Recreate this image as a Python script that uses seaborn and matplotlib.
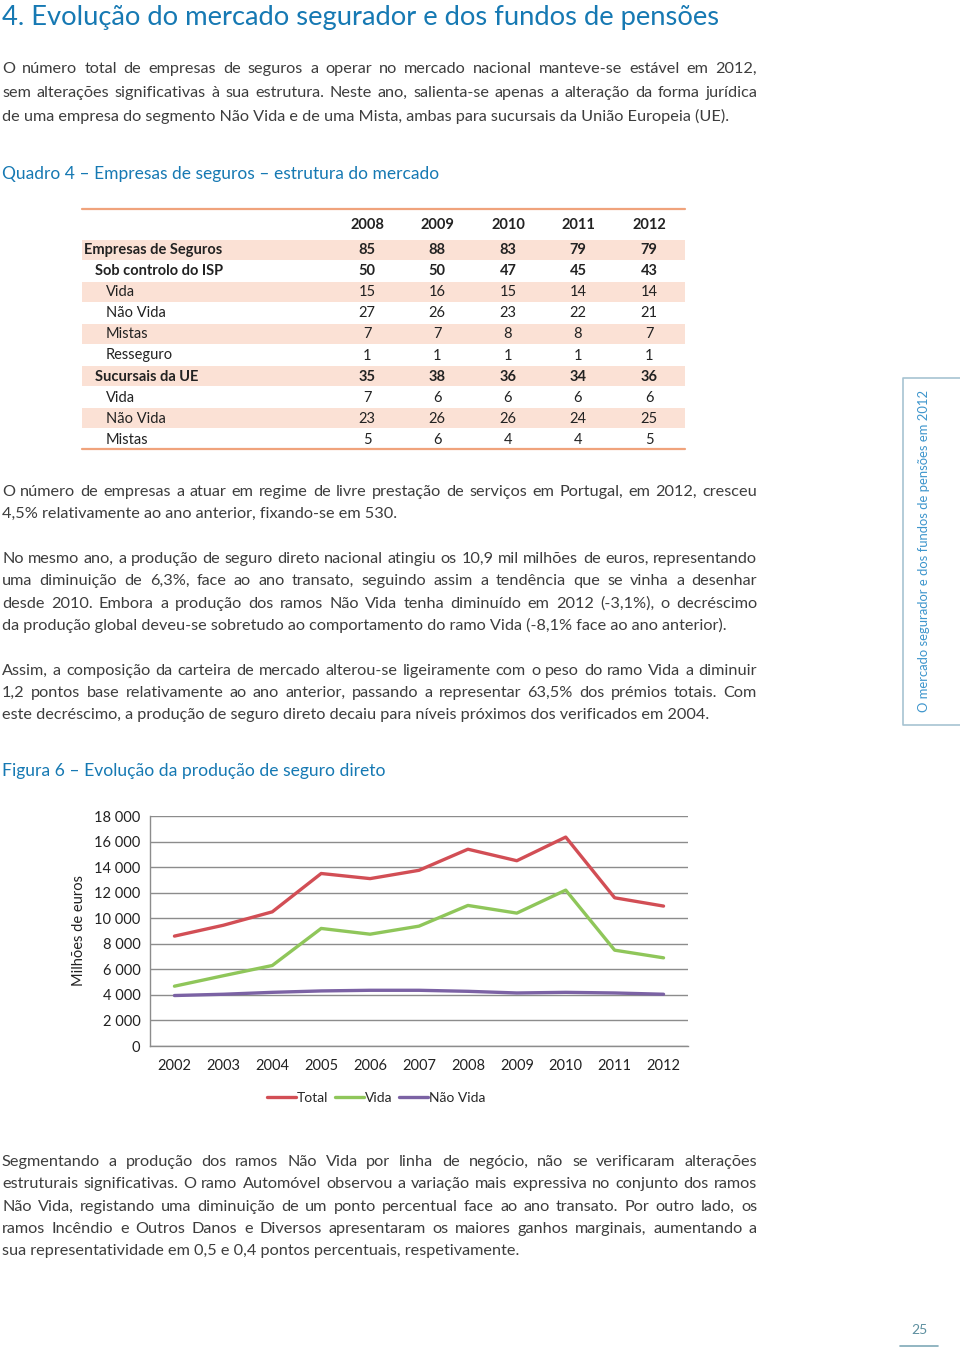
import numpy as np
import pandas as pd
import matplotlib
matplotlib.use('Agg')
import matplotlib.pyplot as plt
import seaborn as sns
from matplotlib.ticker import FuncFormatter, FixedLocator

# ---- data ----
tab_years = ['2008', '2009', '2010', '2011', '2012']
tab_rows = ['Empresas de Seguros', 'Sob controlo do ISP', 'Vida', 'Não Vida', 'Mistas',
            'Resseguro', 'Sucursais da UE', 'Vida', 'Não Vida', 'Mistas']
tab_level = [0, 1, 2, 2, 2, 2, 1, 2, 2, 2]
tab_bold = [True, True, False, False, False, False, True, False, False, False]
tab_values = [
    [85, 88, 83, 79, 79],
    [50, 50, 47, 45, 43],
    [15, 16, 15, 14, 14],
    [27, 26, 23, 22, 21],
    [7, 7, 8, 8, 7],
    [1, 1, 1, 1, 1],
    [35, 38, 36, 34, 36],
    [7, 6, 6, 6, 6],
    [23, 26, 26, 24, 25],
    [5, 6, 4, 4, 5],
]

anos = ['2002', '2003', '2004', '2005', '2006', '2007', '2008', '2009', '2010', '2011', '2012']
total = [8600, 9450, 10500, 13500, 13100, 13750, 15400, 14500, 16350, 11600, 10950]
vida = [4680, 5500, 6300, 9200, 8750, 9380, 11000, 10400, 12200, 7500, 6900]
nao_vida = [3950, 4050, 4200, 4310, 4360, 4360, 4280, 4150, 4200, 4150, 4050]
series_names = ['Total', 'Vida', 'Não Vida']
series_colors = ['#d24e55', '#8fc65a', '#7b62a4']

title = '4. Evolução do mercado segurador e dos fundos de pensões'
para1 = ['O número total de empresas de seguros a operar no mercado nacional manteve-se estável em 2012,',
         'sem alterações significativas à sua estrutura. Neste ano, salienta-se apenas a alteração da forma jurídica',
         'de uma empresa do segmento Não Vida e de uma Mista, ambas para sucursais da União Europeia (UE).']
cap_quadro = 'Quadro 4 – Empresas de seguros – estrutura do mercado'
para2 = ['O número de empresas a atuar em regime de livre prestação de serviços em Portugal, em 2012, cresceu',
         '4,5% relativamente ao ano anterior, fixando-se em 530.']
para3 = ['No mesmo ano, a produção de seguro direto nacional atingiu os 10,9 mil milhões de euros, representando',
         'uma diminuição de 6,3%, face ao ano transato, seguindo assim a tendência que se vinha a desenhar',
         'desde 2010. Embora a produção dos ramos Não Vida tenha diminuído em 2012 (-3,1%), o decréscimo',
         'da produção global deveu-se sobretudo ao comportamento do ramo Vida (-8,1% face ao ano anterior).']
para4 = ['Assim, a composição da carteira de mercado alterou-se ligeiramente com o peso do ramo Vida a diminuir',
         '1,2 pontos base relativamente ao ano anterior, passando a representar 63,5% dos prémios totais. Com',
         'este decréscimo, a produção de seguro direto decaiu para níveis próximos dos verificados em 2004.']
cap_figura = 'Figura 6 – Evolução da produção de seguro direto'
para5 = ['Segmentando a produção dos ramos Não Vida por linha de negócio, não se verificaram alterações',
         'estruturais significativas. O ramo Automóvel observou a variação mais expressiva no conjunto dos ramos',
         'Não Vida, registando uma diminuição de um ponto percentual face ao ano transato. Por outro lado, os',
         'ramos Incêndio e Outros Danos e Diversos apresentaram os maiores ganhos marginais, aumentando a',
         'sua representatividade em 0,5 e 0,4 pontos percentuais, respetivamente.']
sidebar = 'O mercado segurador e dos fundos de pensões em 2012'

sns.set_theme(style='white')
plt.rcParams['font.family'] = ['Lato', 'DejaVu Sans']

BLUE = '#1679b3'
GREY = '#3d3d3d'

fig = plt.figure(figsize=(9.6, 13.49), dpi=100)
page = fig.add_axes([0, 0, 1, 1])
page.set_xlim(0, 960)
page.set_ylim(1349, 0)
page.axis('off')
renderer = fig.canvas.get_renderer()


def measure(s, size, weight='normal'):
    t = page.text(0, 0, s, fontsize=size, weight=weight)
    bb = t.get_window_extent(renderer)
    t.remove()
    return bb.width, bb.height


def fit_size(s, target, base=12, weight='normal'):
    w, _ = measure(s, base, weight)
    return base * target / w


def paragraph(lines, y0, dy, size, x0=2, x1=757):
    for k, line in enumerate(lines):
        y = y0 + k * dy + 5
        if k == len(lines) - 1:
            page.text(x0, y, line, fontsize=size, color=GREY, va='baseline')
            continue
        words = line.split(' ')
        widths = [measure(w, size)[0] for w in words]
        gap = (x1 - x0 - sum(widths)) / (len(words) - 1)
        x = x0
        for w, wd in zip(words, widths):
            page.text(x, y, w, fontsize=size, color=GREY, va='baseline')
            x += wd + gap


# body size: fit the longest justified line
all_just = [l for p in (para1, para2, para3, para4, para5) for l in p[:-1]]
body = min(fit_size(l, 750) for l in all_just)
body = min(body, 12.5)

page.text(2, 17, title, fontsize=fit_size(title, 718), color=BLUE, va='center')
paragraph(para1, 68, 24, body)
page.text(2, 174, cap_quadro, fontsize=fit_size(cap_quadro, 434), color=BLUE, va='center')
paragraph(para2, 491, 22.3, body)
paragraph(para3, 558, 22.3, body)
paragraph(para4, 670, 22.2, body)
page.text(2, 771, cap_figura, fontsize=fit_size(cap_figura, 381), color=BLUE, va='center')
paragraph(para5, 1161, 22.3, body)

# ---- table ----
tx0, tx1 = 82, 685
col_x = [367, 437, 508, 578, 649]
row_y0, row_dy = 249.5, 21.1
for i in range(len(tab_rows)):
    y = row_y0 + i * row_dy
    if i % 2 == 0:
        page.add_patch(plt.Rectangle((tx0, y - 10), tx1 - tx0, 20, color='#fbe1d5', lw=0))
    wt = 'bold' if tab_bold[i] else 'normal'
    page.text(84 + 11 * tab_level[i], y + 0.5, tab_rows[i], fontsize=10.5, weight=wt, color='#222222', va='center')
    for j, v in enumerate(tab_values[i]):
        page.text(col_x[j], y + 0.5, str(v), fontsize=10.5, weight=wt, color='#222222', va='center', ha='center')
for j, yr in enumerate(tab_years):
    page.text(col_x[j], 225, yr, fontsize=10.5, weight='bold', color='#222222', va='center', ha='center')
page.plot([tx0, tx1], [209, 209], color='#f0a37c', lw=1.6)
page.plot([tx0, tx1], [449, 449], color='#f0a37c', lw=1.6)

# ---- sidebar ----
page.plot([960, 903, 903, 960], [378, 378, 725, 725], color='#a7c3d2', lw=1.2)
sb = 11 * 323 / measure(sidebar, 11)[0]
page.text(924, 551, sidebar, fontsize=sb, rotation=90, color='#3d95cc', ha='center', va='center')
page.text(919, 1330, '25', fontsize=10, color='#5d8f9f', ha='center', va='center')
page.plot([900, 938], [1346, 1346], color='#7fa9b7', lw=1.2)

# ---- chart ----
df = pd.DataFrame({
    'idx': np.tile(np.arange(len(anos)), 3),
    'valor': total + vida + nao_vida,
    'serie': np.repeat(series_names, len(anos)),
})
ax = fig.add_axes([150 / 960, 1 - 1046 / 1349, 538 / 960, 230 / 1349])
sns.lineplot(data=df, x='idx', y='valor', hue='serie', hue_order=series_names,
             palette=series_colors, linewidth=2.4, ax=ax)
ax.set_xlim(-0.5, len(anos) - 0.5)
ax.set_ylim(0, 18000)
ax.yaxis.set_major_locator(FixedLocator(np.arange(0, 18001, 2000)))
ax.yaxis.set_major_formatter(FuncFormatter(lambda v, p: f'{int(v):,}'.replace(',', ' ')))
ax.set_xticks(np.arange(len(anos)))
ax.set_xticklabels(anos)
ax.set_xticks(np.arange(-0.5, len(anos)), minor=True)
ax.tick_params(axis='x', which='major', length=0, pad=9, labelsize=10.5, labelcolor='#222222')
ax.tick_params(axis='x', which='minor', length=4, direction='out', color='#8c8c8c', width=1)
ax.tick_params(axis='y', length=3, direction='out', color='#8c8c8c', labelsize=10.5, labelcolor='#222222', pad=4)
ax.grid(axis='y', color='#8c8c8c', lw=1)
ax.set_axisbelow(True)
for s in ['top', 'right']:
    ax.spines[s].set_visible(False)
for s in ['left', 'bottom']:
    ax.spines[s].set_color('#8c8c8c')
    ax.spines[s].set_linewidth(1)
ax.set_xlabel('')
ax.set_ylabel('Milhões de euros', fontsize=10.5, color='#222222', labelpad=6)
handles, labels = ax.get_legend_handles_labels()
ax.legend(handles, labels, ncol=3, loc='center', bbox_to_anchor=(0.42, -0.226), frameon=False,
          fontsize=10, handlelength=2.1, handletextpad=0.05, columnspacing=0.5, borderaxespad=0)

fig.savefig('out.png', dpi=100)
